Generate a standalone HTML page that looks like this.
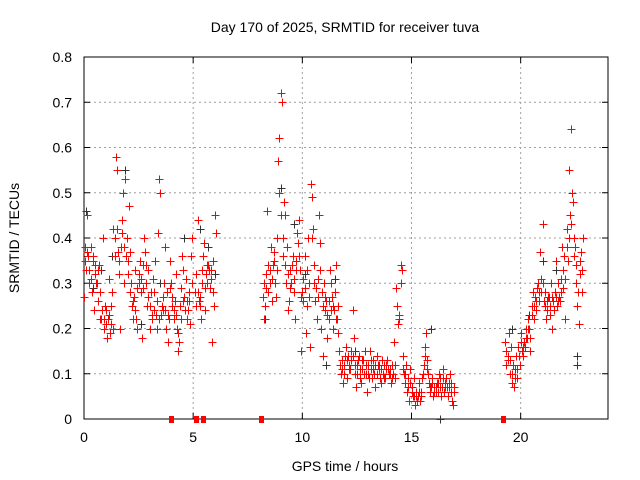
<!DOCTYPE html>
<html><head><meta charset="utf-8"><style>
body{margin:0;background:#fff}
svg{display:block;font-family:"Liberation Sans",sans-serif}
</style></head><body>
<svg id="chart" width="640" height="480" xmlns="http://www.w3.org/2000/svg">
<rect width="640" height="480" fill="#fff"/>
<text x="345" y="32" font-size="14" text-anchor="middle">Day 170 of 2025, SRMTID for receiver tuva</text>
<text x="345" y="471" font-size="14" text-anchor="middle">GPS time / hours</text>
<text transform="translate(19,238) rotate(-90)" font-size="14" text-anchor="middle">SRMTID / TECUs</text>
<g id="grid"></g><g id="ticks"></g>
<rect x="84" y="57" width="524" height="362" fill="none" stroke="#000" stroke-width="1"/>
<g id="marks"></g>
</svg>
<script>
const xTicks=[0,5,10,15,20];
const yTicks=[0,0.1,0.2,0.3,0.4,0.5,0.6,0.7,0.8];
const yTickLabels=["0","0.1","0.2","0.3","0.4","0.5","0.6","0.7","0.8"];
const blackPts=[[0.1,0.46],[0.4,0.29],[0.8,0.33],[1.3,0.36],[1.9,0.55],[2.6,0.21],[3.5,0.30],[4.6,0.40],[5.3,0.42],[5.7,0.38],[6.0,0.32],[8.3,0.22],[9.0,0.51],[9.6,0.43],[10.1,0.32],[10.6,0.26],[11.1,0.12],[11.5,0.31],[12.4,0.15],[13.0,0.12],[14.0,0.10],[15.0,0.07],[15.9,0.20],[16.3,0],[16.6,0.09],[19.6,0.20],[20.4,0.23],[21.0,0.35],[21.6,0.33],[22.1,0.42],[22.6,0.12],[22.6,0.14]];
const redSeg1=[[0.0,0.27],[0.05,0.38],[0.1,0.33],[0.15,0.45],[0.2,0.36],[0.25,0.30],[0.3,0.38],[0.35,0.28],[0.4,0.35],[0.45,0.24],[0.5,0.32],[0.55,0.30],[0.6,0.30],[0.65,0.26],[0.7,0.34],[0.75,0.22],[0.8,0.22],[0.85,0.40],[0.9,0.20],[0.95,0.25],[1.0,0.24],[1.05,0.18],[1.1,0.22],[1.15,0.31],[1.2,0.19],[1.25,0.25],[1.3,0.28],[1.35,0.42],[1.4,0.40],[1.45,0.58],[1.5,0.55],[1.55,0.37],[1.6,0.32],[1.65,0.20],[1.7,0.38],[1.75,0.44],[1.8,0.50],[1.85,0.30],[1.9,0.53],[1.95,0.40],[2.0,0.35],[2.05,0.47],[2.1,0.37],[2.15,0.30],[2.2,0.25],[2.25,0.22],[2.3,0.27],[2.35,0.33],[2.4,0.22],[2.45,0.20],[2.5,0.30],[2.55,0.35],[2.6,0.28],[2.65,0.18],[2.7,0.34],[2.75,0.40],[2.8,0.37],[2.85,0.30],[2.9,0.25],[2.95,0.33],[3.0,0.20],[3.05,0.28],[3.1,0.23],[3.15,0.31],[3.2,0.28],[3.25,0.35],[3.3,0.23],[3.35,0.20],[3.4,0.41],[3.45,0.53],[3.5,0.50],[3.55,0.25],[3.6,0.24],[3.65,0.30],[3.7,0.38],[3.75,0.20],[3.8,0.28],[3.85,0.17],[3.9,0.22],[3.95,0.35],[4.0,0.30],[4.05,0.25],[4.1,0.24],[4.15,0.26],[4.2,0.32],[4.25,0.20],[4.3,0.15],[4.35,0.17],[4.4,0.25],[4.45,0.29],[4.5,0.36],[4.55,0.33],[4.6,0.27],[4.65,0.31],[4.7,0.22],[4.75,0.24],[4.8,0.26],[4.85,0.21],[4.9,0.36],[4.95,0.40],[5.1,0.28],[5.15,0.32],[5.2,0.44],[5.25,0.26],[5.3,0.25],[5.35,0.22],[5.4,0.30],[5.45,0.36],[5.5,0.39],[5.55,0.24],[5.6,0.32],[5.65,0.30],[5.7,0.34],[5.75,0.29],[5.8,0.33],[5.85,0.17],[5.9,0.35],[5.95,0.25],[6.0,0.45],[6.05,0.41]];
const redExtra1=[[0.025,0.35],[0.125,0.37],[0.225,0.33],[0.325,0.31],[0.425,0.36],[0.525,0.34],[0.625,0.33],[0.725,0.28],[0.825,0.24],[0.925,0.22],[1.025,0.21],[1.125,0.23],[1.225,0.21],[1.325,0.20],[1.425,0.36],[1.525,0.42],[1.625,0.35],[1.725,0.41],[1.825,0.38],[1.925,0.36],[2.025,0.32],[2.125,0.28],[2.225,0.26],[2.325,0.24],[2.425,0.29],[2.525,0.32],[2.625,0.31],[2.725,0.29],[2.825,0.34],[2.925,0.27],[3.025,0.25],[3.125,0.22],[3.225,0.24],[3.325,0.26],[3.425,0.22],[3.525,0.23],[3.625,0.27],[3.725,0.24],[3.825,0.23],[3.925,0.29],[4.025,0.27],[4.125,0.22],[4.225,0.23],[4.325,0.19],[4.425,0.22],[4.525,0.26],[4.625,0.24],[4.725,0.26],[4.825,0.28],[4.925,0.30],[5.125,0.25],[5.225,0.28],[5.325,0.27],[5.425,0.33],[5.525,0.29],[5.625,0.34],[5.725,0.33],[5.825,0.31],[5.925,0.28]];
const redZeros=[[4.0,0],[5.15,0],[5.45,0],[8.1,0],[19.2,0]];
const redSeg2=[[8.2,0.27],[8.25,0.22],[8.3,0.25],[8.35,0.32],[8.4,0.46],[8.45,0.28],[8.5,0.30],[8.55,0.38],[8.6,0.26],[8.65,0.34],[8.7,0.35],[8.75,0.30],[8.8,0.27],[8.85,0.40],[8.9,0.57],[8.95,0.62],[9.0,0.72],[9.05,0.70],[9.1,0.40],[9.15,0.48],[9.2,0.45],[9.25,0.30],[9.3,0.38],[9.35,0.24],[9.4,0.26],[9.45,0.33],[9.5,0.30],[9.55,0.36],[9.6,0.28],[9.65,0.22],[9.7,0.35],[9.75,0.41],[9.8,0.39],[9.85,0.44],[9.9,0.33],[9.95,0.15],[10.0,0.28],[10.05,0.26],[10.1,0.36],[10.15,0.19],[10.2,0.25],[10.25,0.40],[10.3,0.30],[10.35,0.16],[10.4,0.52],[10.45,0.49],[10.5,0.42],[10.55,0.34],[10.6,0.26],[10.65,0.22],[10.7,0.31],[10.75,0.45],[10.8,0.39],[10.85,0.20],[10.9,0.28],[10.95,0.14],[11.0,0.30],[11.05,0.24],[11.1,0.26],[11.15,0.18],[11.2,0.22],[11.25,0.33],[11.3,0.30],[11.35,0.27],[11.4,0.20],[11.45,0.24],[11.5,0.28],[11.55,0.34],[11.6,0.22],[11.65,0.19]];
const redExtra2=[[8.225,0.30],[8.325,0.29],[8.425,0.34],[8.525,0.33],[8.625,0.31],[8.725,0.37],[8.825,0.33],[8.925,0.50],[9.025,0.45],[9.125,0.36],[9.225,0.34],[9.325,0.32],[9.425,0.29],[9.525,0.34],[9.625,0.31],[9.725,0.33],[9.825,0.36],[9.925,0.27],[10.025,0.31],[10.125,0.29],[10.225,0.33],[10.325,0.27],[10.425,0.40],[10.525,0.30],[10.625,0.29],[10.725,0.27],[10.825,0.33],[10.925,0.25],[11.025,0.27],[11.125,0.23],[11.225,0.26],[11.325,0.24],[11.425,0.25],[11.525,0.22],[11.625,0.25]];
const redSeg3=[[11.7,0.15],[11.75,0.10],[11.8,0.13],[11.85,0.08],[11.9,0.12],[11.95,0.14],[12.0,0.16],[12.05,0.09],[12.1,0.14],[12.15,0.12],[12.2,0.11],[12.25,0.15],[12.3,0.24],[12.35,0.18],[12.4,0.12],[12.45,0.07],[12.5,0.10],[12.55,0.13],[12.6,0.14],[12.65,0.09],[12.7,0.08],[12.75,0.11],[12.8,0.13],[12.85,0.15],[12.9,0.10],[12.95,0.06],[13.0,0.12],[13.05,0.09],[13.1,0.15],[13.15,0.11],[13.2,0.09],[13.25,0.13],[13.3,0.10],[13.35,0.07],[13.4,0.14],[13.45,0.12],[13.5,0.11],[13.55,0.09],[13.6,0.08],[13.65,0.13],[13.7,0.10],[13.75,0.12],[13.8,0.09],[13.85,0.11],[13.9,0.13],[13.95,0.10],[14.0,0.11],[14.05,0.08],[14.1,0.12],[14.15,0.10],[14.2,0.17],[14.25,0.09],[14.3,0.29],[14.35,0.25],[14.4,0.21],[14.45,0.22],[14.5,0.34],[14.55,0.33]];
const redExtra3=[[11.725,0.12],[11.825,0.11],[11.925,0.10],[12.025,0.13],[12.125,0.11],[12.225,0.13],[12.325,0.14],[12.425,0.10],[12.525,0.12],[12.625,0.11],[12.725,0.13],[12.825,0.10],[12.925,0.12],[13.025,0.10],[13.125,0.13],[13.225,0.11],[13.325,0.12],[13.425,0.10],[13.525,0.12],[13.625,0.11],[13.725,0.09],[13.825,0.12],[13.925,0.11],[14.025,0.10],[14.125,0.09],[14.225,0.12],[14.425,0.23],[14.525,0.30]];
const redSeg4=[[14.6,0.14],[14.65,0.10],[14.7,0.08],[14.75,0.12],[14.8,0.06],[14.85,0.09],[14.9,0.04],[14.95,0.11],[15.0,0.07],[15.05,0.05],[15.1,0.09],[15.15,0.03],[15.2,0.06],[15.25,0.04],[15.3,0.05],[15.35,0.08],[15.4,0.04],[15.45,0.06],[15.5,0.09],[15.55,0.12],[15.6,0.16],[15.65,0.19],[15.7,0.13],[15.75,0.10],[15.8,0.08],[15.85,0.06],[15.9,0.07],[15.95,0.09],[16.0,0.05],[16.05,0.06],[16.1,0.07],[16.15,0.08],[16.2,0.06],[16.25,0.10],[16.3,0.09],[16.35,0.05],[16.4,0.07],[16.45,0.11],[16.5,0.06],[16.55,0.08],[16.6,0.09],[16.65,0.05],[16.7,0.07],[16.75,0.10],[16.8,0.08],[16.85,0.04],[16.9,0.03],[16.95,0.06]];
const redExtra4=[[14.625,0.11],[14.725,0.10],[14.825,0.07],[14.925,0.08],[15.025,0.06],[15.125,0.05],[15.225,0.05],[15.325,0.06],[15.425,0.05],[15.525,0.10],[15.625,0.14],[15.725,0.11],[15.825,0.07],[15.925,0.08],[16.025,0.07],[16.125,0.06],[16.225,0.08],[16.325,0.07],[16.425,0.09],[16.525,0.07],[16.625,0.07],[16.725,0.08],[16.825,0.06],[16.925,0.07]];
const redSeg5=[[19.3,0.17],[19.35,0.12],[19.4,0.14],[19.45,0.19],[19.5,0.10],[19.55,0.16],[19.6,0.08],[19.65,0.12],[19.7,0.07],[19.75,0.11],[19.8,0.14],[19.85,0.09],[19.9,0.16],[19.95,0.12],[20.0,0.19],[20.05,0.15],[20.1,0.14],[20.15,0.17],[20.2,0.16],[20.25,0.20],[20.3,0.18],[20.35,0.22],[20.4,0.20],[20.45,0.15],[20.5,0.25],[20.55,0.28],[20.6,0.22],[20.65,0.27],[20.7,0.24],[20.75,0.29],[20.8,0.30],[20.85,0.26],[20.9,0.37],[20.95,0.31],[21.0,0.43],[21.05,0.26],[21.1,0.28],[21.15,0.22],[21.2,0.24],[21.25,0.27],[21.3,0.27],[21.35,0.23],[21.4,0.30],[21.45,0.20],[21.5,0.26],[21.55,0.28],[21.6,0.35],[21.65,0.25],[21.7,0.30],[21.75,0.27],[21.8,0.26],[21.85,0.31],[21.9,0.38],[21.95,0.29],[22.0,0.36],[22.05,0.22],[22.1,0.42],[22.15,0.35],[22.2,0.55],[22.25,0.45],[22.3,0.64],[22.35,0.50],[22.4,0.48],[22.45,0.40],[22.5,0.38],[22.55,0.30],[22.6,0.25],[22.65,0.21],[22.7,0.32],[22.75,0.37],[22.8,0.28],[22.85,0.40]];
const redExtra5=[[19.325,0.15],[19.425,0.13],[19.525,0.13],[19.625,0.10],[19.725,0.09],[19.825,0.11],[19.925,0.14],[20.025,0.17],[20.125,0.16],[20.225,0.18],[20.325,0.20],[20.425,0.18],[20.525,0.23],[20.625,0.25],[20.725,0.26],[20.825,0.28],[20.925,0.28],[21.025,0.30],[21.125,0.25],[21.225,0.26],[21.325,0.25],[21.425,0.27],[21.525,0.24],[21.625,0.27],[21.725,0.26],[21.825,0.28],[21.925,0.33],[22.025,0.31],[22.125,0.38],[22.225,0.40],[22.325,0.43],[22.425,0.36],[22.525,0.34],[22.625,0.28],[22.725,0.35],[22.825,0.33]];

const X0=84,X1=608,Y0=419,Y1=57,XMAX=24,YMAX=0.8;
function xs(t){return X0+(X1-X0)*t/XMAX;}
function ys(v){return Y0-(Y0-Y1)*v/YMAX;}
const NS="http://www.w3.org/2000/svg";
function mk(tag,attrs,parent){const e=document.createElementNS(NS,tag);for(const k in attrs)e.setAttribute(k,attrs[k]);parent.appendChild(e);return e;}
const grid=document.getElementById('grid'),ticks=document.getElementById('ticks'),marks=document.getElementById('marks');
xTicks.forEach(t=>{
  const x=xs(t);
  if(t>0){const g=mk('line',{x1:x,x2:x,y1:Y1,y2:Y0,stroke:'#a0a0a0','stroke-dasharray':'2,3'},grid);
  
  }
  mk('line',{x1:x,x2:x,y1:Y0,y2:Y0-6,stroke:'#000'},ticks);
  mk('line',{x1:x,x2:x,y1:Y1,y2:Y1+6,stroke:'#000'},ticks);
  const l=mk('text',{x:x,y:442,'font-size':14,'text-anchor':'middle'},ticks);
  l.textContent=t;
  
  
});
yTicks.forEach((v,i)=>{
  const y=ys(v);
  if(v>0&&v<YMAX){const g=mk('line',{x1:X0,x2:X1,y1:y,y2:y,stroke:'#a0a0a0','stroke-dasharray':'2,3'},grid);
  
  }
  mk('line',{x1:X0,x2:X0+6,y1:y,y2:y,stroke:'#000'},ticks);
  mk('line',{x1:X1,x2:X1-6,y1:y,y2:y,stroke:'#000'},ticks);
  const l=mk('text',{x:72,y:y+5,'font-size':14,'text-anchor':'end'},ticks);
  l.textContent=yTickLabels[i];
  
  
});
function plus(pts,color,name){
  pts.forEach(p=>{
    const x=Math.round(xs(p[0]))+0.5,y=Math.round(ys(p[1]))+0.5;
    const e=mk('path',{d:`M${x-4} ${y}H${x+4}M${x} ${y-4}V${y+4}`,stroke:color,'stroke-width':1,fill:'none'},marks);
    
    
  });
}
plus(blackPts,'#333','black-point');
[redSeg1,redExtra1,redSeg2,redExtra2,redSeg3,redExtra3,redSeg4,redExtra4,redSeg5,redExtra5].forEach(s=>plus(s,'#ff0000','red-point'));
redZeros.forEach(p=>{
  const r=mk('rect',{x:Math.round(xs(p[0]))-2,y:Math.round(ys(p[1]))-3,width:5,height:7,fill:'#ff0000'},marks);
  
  
});
</script>
</body></html>
